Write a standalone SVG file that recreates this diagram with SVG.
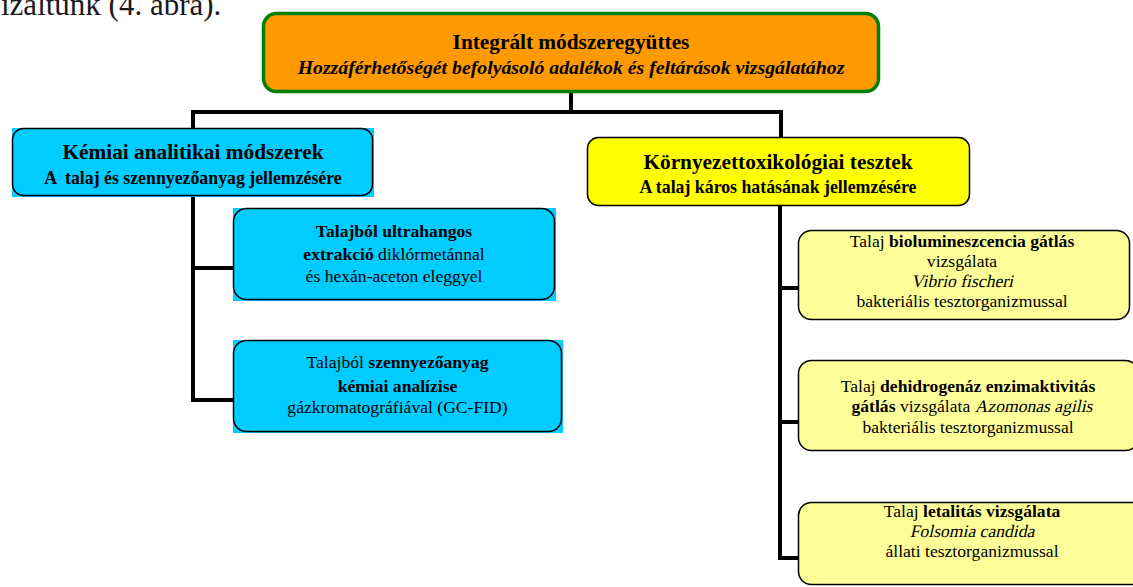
<svg xmlns="http://www.w3.org/2000/svg" width="1133" height="587" viewBox="0 0 1133 587">
  <style>
    text { font-family: "Liberation Serif", "Times New Roman", "DejaVu Serif", serif; fill: #000; }
    .title { font-size: 21.3px; font-weight: bold; text-anchor: middle; }
    .sub { font-size: 17.8px; font-weight: bold; text-anchor: middle; white-space: pre; }
    .body { font-size: 17.6px; text-anchor: middle; }
    .left { font-size: 17.6px; text-anchor: start; white-space: pre; }
    .b { font-weight: bold; }
    .cyanbg { fill: #00CCFF; stroke: none; }
    .frame { fill: none; stroke: #000; stroke-width: 1.5; }
    .yellow { fill: #FFFF00; stroke: #000; stroke-width: 1.5; }
    .pale { fill: #FFFF99; stroke: #000; stroke-width: 1.5; }
    .wire { fill: none; stroke: #000; stroke-width: 4; stroke-linejoin: miter; stroke-linecap: butt; }
  </style>

  <!-- running text above the chart -->
  <text x="1" y="15" style="font-size:31px; fill:#1a1a1a">izáltunk (4. ábra).</text>

  <!-- connectors -->
  <g id="connectors">
    <path class="wire" d="M571,92 V112 M191.5,112 H783 M193,110 V128 M781,110 V137"/>
    <path class="wire" d="M193,196 V402 M193,268 H233 M191,400 H233"/>
    <path class="wire" d="M780,206 V560 M780,288 H798 M780,422 H798 M778,558 H798"/>
  </g>

  <!-- root -->
  <g id="root">
    <rect x="263.5" y="13.5" width="615" height="78" rx="13" ry="13" fill="#FF9900" stroke="#008000" stroke-width="3.5"/>
    <text class="title" x="571" y="49">Integrált módszeregyüttes</text>
    <text x="571" y="74" style="font-size:19.8px; font-weight:bold; font-style:italic; text-anchor:middle">Hozzáférhetőségét befolyásoló adalékok és feltárások vizsgálatához</text>
  </g>

  <!-- chemical analysis branch -->
  <g id="chem">
    <rect class="cyanbg" x="12" y="128" width="362" height="69"/>
    <rect class="frame" x="12.5" y="128.5" width="360" height="67" rx="11" ry="11"/>
    <text class="title" x="193" y="159">Kémiai analitikai módszerek</text>
    <text class="sub" x="193" y="184">A  talaj és szennyezőanyag jellemzésére</text>
  </g>

  <g id="chem-extraction">
    <rect class="cyanbg" x="233" y="208" width="323" height="93"/>
    <rect class="frame" x="233.5" y="208.5" width="321" height="91" rx="13" ry="13"/>
    <text class="body" x="394" y="237"><tspan class="b">Talajból ultrahangos</tspan></text>
    <text class="body" x="394" y="260"><tspan class="b">extrakció</tspan> diklórmetánnal</text>
    <text class="body" x="394" y="282">és hexán-aceton eleggyel</text>
  </g>

  <g id="chem-gcfid">
    <rect class="cyanbg" x="233" y="340" width="330" height="93"/>
    <rect class="frame" x="233.5" y="340.5" width="328" height="91" rx="13" ry="13"/>
    <text class="body" x="397.5" y="368">Talajból <tspan class="b">szennyezőanyag</tspan></text>
    <text class="body" x="397.5" y="392"><tspan class="b">kémiai analízise</tspan></text>
    <text class="body" x="397.5" y="413">gázkromatográfiával (GC-FID)</text>
  </g>

  <!-- ecotoxicology branch -->
  <g id="ecotox">
    <rect class="yellow" x="587.5" y="137.5" width="382" height="68" rx="11" ry="11"/>
    <text class="title" x="778" y="169">Környezettoxikológiai tesztek</text>
    <text class="sub" x="778" y="193">A talaj káros hatásának jellemzésére</text>
  </g>

  <!-- species names are set slanted -->
  <g id="ecotox-biolum">
    <rect class="pale" x="798.5" y="230.5" width="331" height="89" rx="13" ry="13"/>
    <text class="body" x="962" y="247">Talaj <tspan class="b">biolumineszcencia gátlás</tspan></text>
    <text class="body" x="962" y="267">vizsgálata</text>
    <text class="body" transform="translate(962,287) skewX(-13)">Vibrio fischeri</text>
    <text class="body" x="962" y="307">bakteriális tesztorganizmussal</text>
  </g>

  <g id="ecotox-dehydrogenase">
    <rect class="pale" x="798.5" y="360.5" width="340" height="90" rx="13" ry="13"/>
    <text class="body" x="968" y="392">Talaj <tspan class="b">dehidrogenáz enzimaktivitás</tspan></text>
    <text class="left" x="851.5" y="412"><tspan class="b">gátlás</tspan> vizsgálata </text>
    <text class="left" transform="translate(974.7,412) skewX(-13)">Azomonas agilis</text>
    <text class="body" x="968" y="433">bakteriális tesztorganizmussal</text>
  </g>

  <g id="ecotox-lethality">
    <rect class="pale" x="798.5" y="502.5" width="348" height="82" rx="13" ry="13"/>
    <text class="body" x="972" y="517">Talaj <tspan class="b">letalitás vizsgálata</tspan></text>
    <text class="body" transform="translate(972,537) skewX(-13)">Folsomia candida</text>
    <text class="body" x="972" y="557">állati tesztorganizmussal</text>
  </g>
</svg>
